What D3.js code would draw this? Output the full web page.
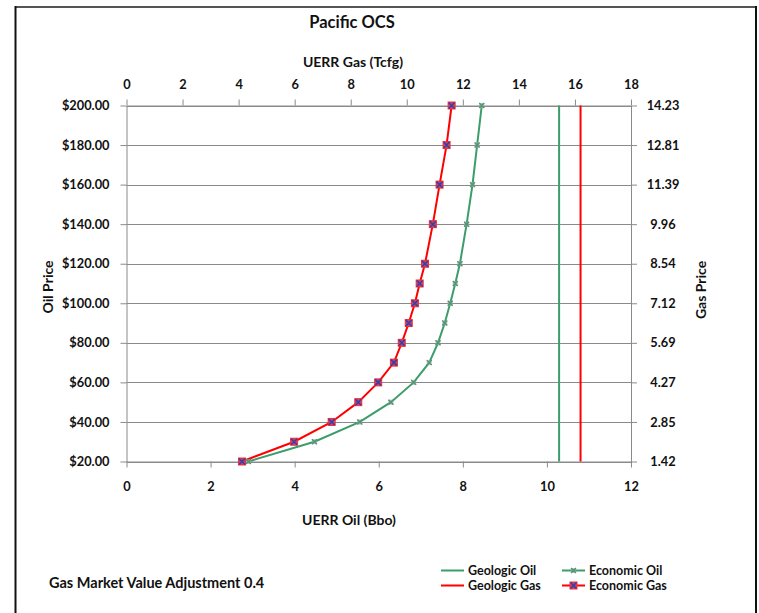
<!DOCTYPE html>
<html>
<head>
<meta charset="utf-8">
<script src="https://cdn.jsdelivr.net/npm/d3@7"></script>
<style>
  html, body { margin: 0; padding: 0; background: #fff; }
  svg { display: block; }
  text { font-family: Lato, "Open Sans", sans-serif; font-weight: bold; fill: #111; }
</style>
</head>
<body>
<svg id="chart" width="759" height="613"></svg>
<script>
// Oil price levels (y axis) and undiscovered economically recoverable resources
const oilPrices = [20, 30, 40, 50, 60, 70, 80, 90, 100, 110, 120, 140, 160, 180, 200];
const economicOil = [2.90, 4.47, 5.55, 6.29, 6.83, 7.20, 7.41, 7.57, 7.70, 7.82, 7.93, 8.09, 8.23, 8.34, 8.45]; // Bbo
const economicGas = [4.12, 5.98, 7.32, 8.27, 8.98, 9.54, 9.82, 10.07, 10.29, 10.46, 10.65, 10.93, 11.17, 11.42, 11.60]; // Tcfg
const geologicOil = 10.29; // Bbo
const geologicGas = 16.2;  // Tcfg

// Axis ticks
const oilPriceTicks = [20, 40, 60, 80, 100, 120, 140, 160, 180, 200];
const gasPriceLabels = ["1.42", "2.85", "4.27", "5.69", "7.12", "8.54", "9.96", "11.39", "12.81", "14.23"];
const oilTicks = [0, 2, 4, 6, 8, 10, 12];
const gasTicks = [0, 2, 4, 6, 8, 10, 12, 14, 16, 18];

const GREEN = "#3c9c6c";
const RED = "#ff0000";
const AXIS = "#8a8a8a";
const TICK_FONT = 12.8;

const svg = d3.select("#chart");

// Chart frame
svg.append("line").attr("x1", 15).attr("x2", 757).attr("y1", 7).attr("y2", 7)
  .attr("stroke", "#555").attr("stroke-width", 2);
svg.append("line").attr("x1", 15.5).attr("x2", 15.5).attr("y1", 6).attr("y2", 613)
  .attr("stroke", "#111").attr("stroke-width", 2);
svg.append("line").attr("x1", 756).attr("x2", 756).attr("y1", 6).attr("y2", 613)
  .attr("stroke", "#111").attr("stroke-width", 2);

const plot = { left: 126.5, right: 631, top: 105.5, bottom: 461.5 };

const xOil = d3.scaleLinear().domain([0, 12]).range([plot.left, plot.right]);
const xGas = d3.scaleLinear().domain([0, 18]).range([plot.left, plot.right]);
const y = d3.scaleLinear().domain([20, 200]).range([plot.bottom, plot.top]);

// Horizontal gridlines
svg.append("g").selectAll("line").data(oilPriceTicks).join("line")
  .attr("x1", plot.left).attr("x2", plot.right)
  .attr("y1", d => Math.round(y(d)) + 0.5).attr("y2", d => Math.round(y(d)) + 0.5)
  .attr("stroke", AXIS).attr("stroke-width", 1);

function styleAxis(g) {
  g.selectAll(".domain").attr("stroke", AXIS).attr("stroke-width", 1);
  g.selectAll(".tick line").attr("stroke", AXIS).attr("stroke-width", 1);
  g.selectAll("text").attr("font-family", "Lato, 'Open Sans', sans-serif")
    .attr("font-weight", "bold").attr("font-size", TICK_FONT).attr("fill", "#111");
}

// Left axis: oil price
svg.append("g").attr("transform", `translate(${plot.left},0)`)
  .call(d3.axisLeft(y).tickValues(oilPriceTicks).tickFormat(d3.format("$.2f"))
    .tickSizeInner(6).tickSizeOuter(0).tickPadding(11))
  .call(styleAxis);

// Right axis: gas price
svg.append("g").attr("transform", `translate(${plot.right},0)`)
  .call(d3.axisRight(y).tickValues(oilPriceTicks)
    .tickFormat((d, i) => gasPriceLabels[i])
    .tickSizeInner(6).tickSizeOuter(0).tickPadding(10))
  .call(styleAxis)
  .call(g => g.selectAll("text").attr("text-anchor", "middle").attr("x", 32));

// Bottom axis: UERR oil
svg.append("g").attr("transform", `translate(0,${plot.bottom})`)
  .call(d3.axisBottom(xOil).tickValues(oilTicks).tickFormat(d3.format("d"))
    .tickSizeInner(6).tickSizeOuter(0).tickPadding(14))
  .call(styleAxis);

// Top axis: UERR gas
svg.append("g").attr("transform", `translate(0,${plot.top})`)
  .call(d3.axisTop(xGas).tickValues(gasTicks).tickFormat(d3.format("d"))
    .tickSizeInner(6).tickSizeOuter(0).tickPadding(11))
  .call(styleAxis);

// Geologic resources: vertical reference lines
svg.append("line")
  .attr("x1", xOil(geologicOil)).attr("x2", xOil(geologicOil))
  .attr("y1", y(200)).attr("y2", y(20))
  .attr("stroke", GREEN).attr("stroke-width", 2);
svg.append("line")
  .attr("x1", xGas(geologicGas)).attr("x2", xGas(geologicGas))
  .attr("y1", y(200)).attr("y2", y(20))
  .attr("stroke", RED).attr("stroke-width", 2);

// Economic curves
const oilPts = oilPrices.map((p, i) => [xOil(economicOil[i]), y(p)]);
const gasPts = oilPrices.map((p, i) => [xGas(economicGas[i]), y(p)]);
const line = d3.line();

svg.append("path").attr("d", line(oilPts)).attr("fill", "none")
  .attr("stroke", GREEN).attr("stroke-width", 2);
svg.append("path").attr("d", line(gasPts)).attr("fill", "none")
  .attr("stroke", RED).attr("stroke-width", 2);

function oilMarker(g, x, yy) {
  const s = 2.5;
  g.append("rect").attr("x", x - s).attr("y", yy - s).attr("width", 2 * s).attr("height", 2 * s)
    .attr("fill", "#7fb39a").attr("stroke", "none").attr("opacity", 0.7);
  g.append("path").attr("d", `M${x - s},${yy - s}L${x + s},${yy + s}M${x - s},${yy + s}L${x + s},${yy - s}`)
    .attr("stroke", "#5a8f76").attr("stroke-width", 1.3);
}
function gasMarker(g, x, yy) {
  const s = 3.5;
  g.append("rect").attr("x", x - s).attr("y", yy - s).attr("width", 2 * s).attr("height", 2 * s)
    .attr("fill", "#b04a78").attr("stroke", "#ff2a2a").attr("stroke-width", 1);
  g.append("path").attr("d", `M${x - s + 0.5},${yy - s + 0.5}L${x + s - 0.5},${yy + s - 0.5}M${x - s + 0.5},${yy + s - 0.5}L${x + s - 0.5},${yy - s + 0.5}`)
    .attr("stroke", "#3c3ca8").attr("stroke-width", 1.5);
}

const oilMarks = svg.append("g");
oilPts.forEach(([x, yy]) => oilMarker(oilMarks, x, yy));
const gasMarks = svg.append("g");
gasPts.forEach(([x, yy]) => gasMarker(gasMarks, x, yy));

// Titles and axis labels
svg.append("text").attr("x", 352).attr("y", 28).attr("text-anchor", "middle")
  .attr("font-size", 16.5).text("Pacific OCS");
svg.append("text").attr("x", 353).attr("y", 67).attr("text-anchor", "middle")
  .attr("font-size", 14).text("UERR Gas (Tcfg)");
svg.append("text").attr("x", 349).attr("y", 525).attr("text-anchor", "middle")
  .attr("font-size", 14).text("UERR Oil (Bbo)");
svg.append("text").attr("transform", "translate(53,287) rotate(-90)").attr("text-anchor", "middle")
  .attr("font-size", 14).text("Oil Price");
svg.append("text").attr("transform", "translate(706,290) rotate(-90)").attr("text-anchor", "middle")
  .attr("font-size", 14).text("Gas Price");
svg.append("text").attr("x", 49).attr("y", 588)
  .attr("font-size", 14.5).text("Gas Market Value Adjustment 0.4");

// Legend
const legendItems = [
  { label: "Geologic Oil", color: GREEN, marker: null, col: 0, row: 0 },
  { label: "Economic Oil", color: GREEN, marker: oilMarker, col: 1, row: 0 },
  { label: "Geologic Gas", color: RED, marker: null, col: 0, row: 1 },
  { label: "Economic Gas", color: RED, marker: gasMarker, col: 1, row: 1 }
];
const legend = svg.append("g");
legendItems.forEach(item => {
  const x0 = item.col === 0 ? 441 : 562;
  const yy = item.row === 0 ? 570.5 : 585.5;
  legend.append("line").attr("x1", x0).attr("x2", x0 + 23).attr("y1", yy).attr("y2", yy)
    .attr("stroke", item.color).attr("stroke-width", 2);
  if (item.marker) item.marker(legend, x0 + 11.5, yy);
  legend.append("text").attr("x", x0 + 27).attr("y", yy + 4.5)
    .attr("font-size", 12.5).text(item.label);
});
</script>
</body>
</html>
